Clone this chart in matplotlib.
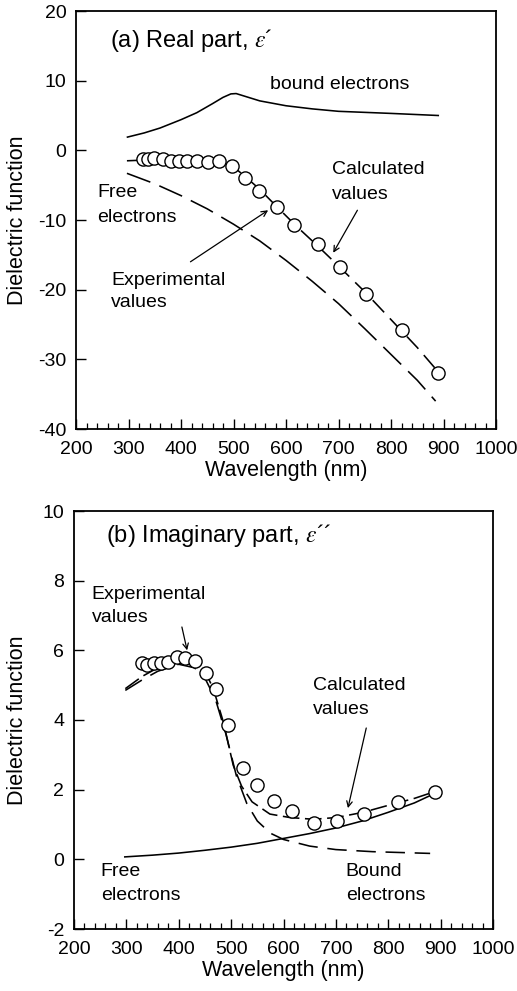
import matplotlib
matplotlib.use("Agg")
import matplotlib.pyplot as plt
from matplotlib.ticker import MultipleLocator

plt.rcParams['font.family'] = ['Liberation Sans', 'DejaVu Sans']
plt.rcParams['mathtext.fontset'] = 'stix'
plt.rcParams['lines.scale_dashes'] = False
plt.rcParams['axes.unicode_minus'] = False

# ---------------- Panel (a): real part ----------------
a_exp_wl = [327, 337, 349, 365, 381, 397, 412, 431, 452, 473, 498, 522, 549, 582, 616, 660, 702, 753, 820, 890]
a_exp_val = [-1.3, -1.2, -1.1, -1.3, -1.5, -1.6, -1.6, -1.6, -1.7, -1.6, -2.3, -4.0, -5.8, -8.1, -10.7, -13.5, -16.8, -20.6, -25.8, -32.0]

a_calc_wl = [297, 330, 400, 450, 480, 500, 520, 550, 580, 620, 660, 700, 750, 800, 850, 890]
a_calc_val = [-1.5, -1.4, -1.5, -1.7, -1.9, -2.4, -3.6, -5.6, -7.9, -10.9, -13.7, -16.6, -20.3, -24.3, -28.3, -31.8]

a_free_wl = [297, 350, 400, 450, 500, 550, 600, 650, 700, 750, 800, 850, 885]
a_free_val = [-3.3, -4.8, -6.5, -8.4, -10.6, -13.0, -15.8, -18.8, -22.0, -25.6, -29.3, -33.0, -36.0]

a_bound_wl = [298, 330, 360, 400, 430, 460, 480, 495, 505, 520, 550, 600, 650, 700, 800, 890]
a_bound_val = [1.9, 2.5, 3.2, 4.4, 5.4, 6.7, 7.6, 8.1, 8.15, 7.8, 7.1, 6.4, 5.95, 5.6, 5.3, 5.0]

# ---------------- Panel (b): imaginary part ----------------
b_exp_wl = [329, 339, 353, 367, 380, 396, 412, 431, 452, 472, 494, 523, 549, 582, 617, 659, 703, 753, 819, 889]
b_exp_val = [5.63, 5.58, 5.63, 5.65, 5.67, 5.80, 5.77, 5.69, 5.34, 4.88, 3.86, 2.61, 2.13, 1.68, 1.40, 1.05, 1.11, 1.29, 1.65, 1.94]

b_calc_wl = [298, 330, 360, 400, 430, 450, 466, 485, 504, 520, 540, 574, 612, 657, 701, 752, 800, 850, 890]
b_calc_val = [4.90, 5.25, 5.50, 5.75, 5.70, 5.40, 4.90, 3.95, 2.70, 2.10, 1.65, 1.30, 1.20, 1.15, 1.20, 1.35, 1.55, 1.75, 1.95]

b_bound_wl = [298, 330, 360, 400, 430, 450, 470, 490, 510, 530, 550, 575, 600, 650, 700, 770, 880]
b_bound_val = [4.85, 5.15, 5.40, 5.60, 5.50, 5.20, 4.60, 3.60, 2.40, 1.60, 1.10, 0.75, 0.57, 0.38, 0.28, 0.22, 0.17]

b_free_wl = [297, 350, 400, 450, 500, 550, 600, 650, 700, 750, 800, 850, 890]
b_free_val = [0.07, 0.12, 0.18, 0.26, 0.35, 0.46, 0.60, 0.74, 0.90, 1.10, 1.35, 1.62, 1.90]

fig = plt.figure(figsize=(5.17, 9.91), dpi=100)
ax1 = fig.add_axes([76/517, 1-429/991, 420/517, 418/991])
ax2 = fig.add_axes([74/517, 1-929/991, 419/517, 418/991])

lw = 1.15
mk = dict(marker='o', ms=9.5, mfc='white', mec='black', mew=1.0, ls='none', zorder=5)

# Panel a
ax1.plot(a_bound_wl, a_bound_val, color='black', lw=lw)
ax1.plot(a_free_wl, a_free_val, color='black', lw=lw, dashes=(18, 7))
ax1.plot(a_calc_wl, a_calc_val, color='black', lw=lw, dashes=(12, 6))
ax1.plot(a_exp_wl, a_exp_val, **mk)

# Panel b
ax2.plot(b_free_wl, b_free_val, color='black', lw=lw)
ax2.plot(b_bound_wl, b_bound_val, color='black', lw=lw, dashes=(14, 7))
ax2.plot(b_calc_wl, b_calc_val, color='black', lw=lw, dashes=(12, 4))
ax2.plot(b_exp_wl, b_exp_val, **mk)

fs_ann = 14
fs_tick = 14
fs_lab = 15.5

for ax in (ax1, ax2):
    ax.set_xlim(200, 1000)
    ax.xaxis.set_major_locator(MultipleLocator(100))
    ax.xaxis.set_minor_locator(MultipleLocator(20))
    ax.tick_params(axis='both', which='major', direction='in', length=7, width=1,
                   labelsize=fs_tick)
    ax.tick_params(axis='x', which='major', pad=9)
    ax.tick_params(axis='y', which='major', pad=7)
    ax.tick_params(axis='x', which='minor', direction='in', length=4, width=0.9)
    ax.tick_params(axis='y', which='minor', left=False)
    for s in ax.spines.values():
        s.set_linewidth(1.3)
    ax.set_xlabel('Wavelength (nm)', fontsize=fs_lab, labelpad=1)
    ax.set_ylabel('Dielectric function', fontsize=fs_lab)

ax1.set_ylim(-40, 20)
ax1.yaxis.set_major_locator(MultipleLocator(10))
ax2.set_ylim(-2, 10)
ax2.yaxis.set_major_locator(MultipleLocator(2))
ax1.yaxis.set_label_coords(-0.114, 0.5)
ax2.yaxis.set_label_coords(-0.110, 0.5)

# Texts panel a
ax1.text(265, 15.8, "(a) Real part, $\\varepsilon$\u00b4", fontsize=17, va='center', ha='left')
ax1.text(570, 9.4, 'bound electrons', fontsize=fs_ann, va='center', ha='left')
ax1.text(240, -6.1, 'Free', fontsize=fs_ann, va='center', ha='left')
ax1.text(240, -9.6, 'electrons', fontsize=fs_ann, va='center', ha='left')
ax1.text(688, -2.8, 'Calculated', fontsize=fs_ann, va='center', ha='left')
ax1.text(688, -6.4, 'values', fontsize=fs_ann, va='center', ha='left')
ax1.text(267, -18.7, 'Experimental', fontsize=fs_ann, va='center', ha='left')
ax1.text(267, -21.9, 'values', fontsize=fs_ann, va='center', ha='left')
arrow = dict(arrowstyle='->', color='black', lw=0.9, shrinkA=0, shrinkB=0)
ax1.annotate('', xy=(566, -8.6), xytext=(418, -16.0), arrowprops=arrow)
ax1.annotate('', xy=(690, -14.7), xytext=(736, -8.6), arrowprops=arrow)

# Texts panel b
ax2.text(261, 9.3, "(b) Imaginary part, $\\varepsilon$\u00b4\u00b4", fontsize=17, va='center', ha='left')
ax2.text(234, 7.59, 'Experimental', fontsize=fs_ann, va='center', ha='left')
ax2.text(234, 6.93, 'values', fontsize=fs_ann, va='center', ha='left')
ax2.text(656, 5.0, 'Calculated', fontsize=fs_ann, va='center', ha='left')
ax2.text(656, 4.29, 'values', fontsize=fs_ann, va='center', ha='left')
ax2.text(251, -0.36, 'Free', fontsize=fs_ann, va='center', ha='left')
ax2.text(251, -1.05, 'electrons', fontsize=fs_ann, va='center', ha='left')
ax2.text(719, -0.36, 'Bound', fontsize=fs_ann, va='center', ha='left')
ax2.text(719, -1.05, 'electrons', fontsize=fs_ann, va='center', ha='left')
ax2.annotate('', xy=(416, 6.0), xytext=(406, 6.67), arrowprops=arrow)
ax2.annotate('', xy=(723, 1.47), xytext=(758, 3.77), arrowprops=arrow)

fig.savefig('out.png', dpi=100)
